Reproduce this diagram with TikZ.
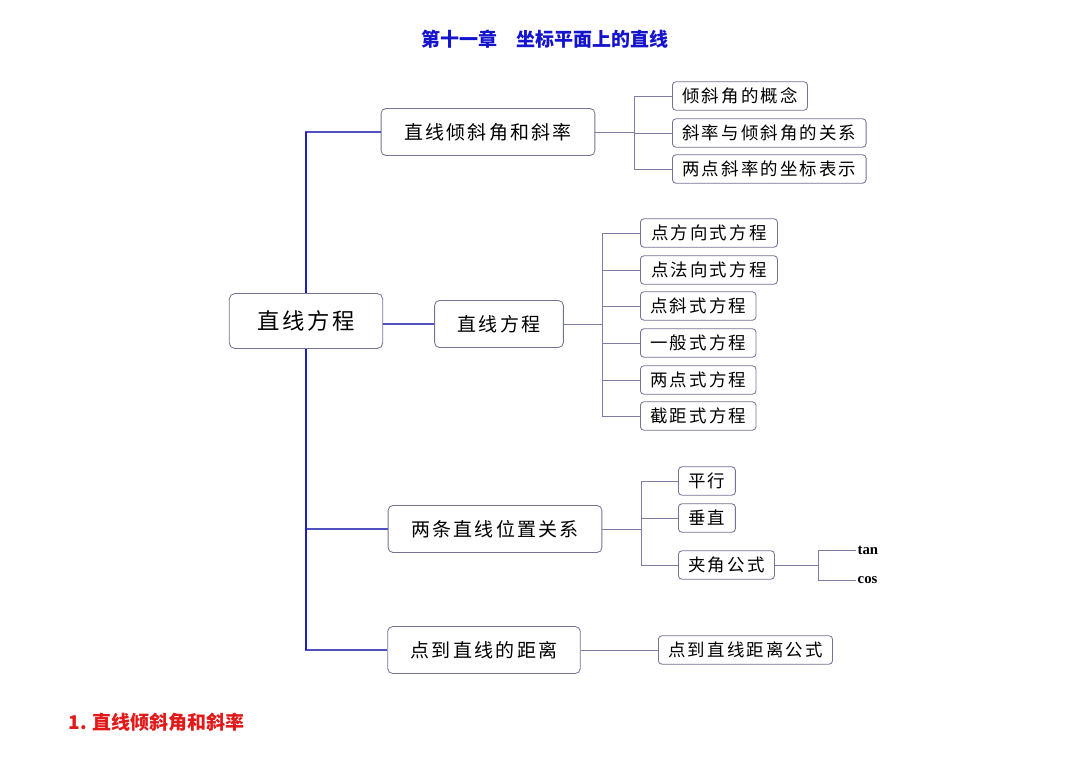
\documentclass[tikz,border=0pt]{standalone}
\usepackage{fontspec}
\usepackage{xcolor}
\usepackage{tikz}
\usetikzlibrary{positioning, calc}
\newfontfamily\cjk[LetterSpace=12]{Noto Sans CJK SC}
\newfontfamily\cjkhead{Noto Sans CJK SC}
\newfontfamily\latinb{Liberation Serif}
\definecolor{trunkblue}{RGB}{30,30,190}
\definecolor{branchblue}{RGB}{80,80,195}
\definecolor{twiggray}{RGB}{125,125,165}
\definecolor{boxgray}{RGB}{115,115,150}
\definecolor{titleblue}{RGB}{20,20,205}
\definecolor{headred}{RGB}{225,25,25}

\begin{document}
\begin{tikzpicture}[x=0.025cm, y=-0.025cm,
    rootbox/.style={draw=boxgray, fill=white, rounded corners=4pt, line width=0.6pt,
        font=\cjk\fontsize{15.9}{17}\selectfont, minimum height=1.375cm, inner xsep=0.7cm},
    midbox/.style={draw=boxgray, fill=white, rounded corners=3.5pt, line width=0.6pt,
        font=\cjk\fontsize{13.5}{15}\selectfont, minimum height=1.175cm, inner xsep=0.575cm},
    leafbox/.style={draw=boxgray, fill=white, rounded corners=2.5pt, line width=0.6pt,
        font=\cjk\fontsize{12.4}{14}\selectfont, minimum height=0.71cm, inner xsep=0.25cm, anchor=west},
    trunk/.style={draw=trunkblue, line width=1.3pt},
    branch/.style={draw=branchblue, line width=0.8pt},
    twig/.style={draw=twiggray, line width=0.6pt}]
    \useasboundingbox (0,0) rectangle (1080,762);

    % Headings
    \node[font=\cjkhead\bfseries\fontsize{13.5}{15}\selectfont, text=titleblue] (title) at (545,39) {第十一章　坐标平面上的直线};
    \node[font=\cjkhead\bfseries\fontsize{13.5}{15}\selectfont, text=headred, anchor=west] (head) at (64,722) {1. 直线倾斜角和斜率};

    % Root and main branches
    \node[rootbox] (root) at (306,321) {直线方程};
    \node[midbox] (incl) at (488,132) {直线倾斜角和斜率};
    \node[midbox] (eqn) at (499,324) {直线方程};
    \node[midbox] (pos) at (495,529) {两条直线位置关系};
    \node[midbox] (dist) at (484,650) {点到直线的距离};

    \draw[branch] (root.north) |- (incl.west);
    \draw[branch] (root.south) |- (pos.west);
    \draw[branch] (root.south) |- (dist.west);
    \draw[branch] (eqn.west -| root.east) -- (eqn.west);
    \draw[trunk] (root.north) -- (root.north |- incl.west);
    \draw[trunk] (root.south) -- (root.south |- dist.west);

    % Inclination and slope
    \coordinate (j1) at (634,132);
    \foreach \n/\y/\t in {i1/96/倾斜角的概念, i2/133/斜率与倾斜角的关系, i3/169/两点斜率的坐标表示} {
        \node[leafbox] (\n) at (672,\y) {\t};
        \draw[twig] (j1) |- (\n.west);
    }
    \draw[twig] (incl.east) -- (j1);

    % Forms of the equation
    \coordinate (j2) at (602,324);
    \foreach \n/\y/\t/\w in {e1/233/点方向式方程/3.425cm, e2/270/点法向式方程/3.425cm, e3/306/点斜式方程/1pt,
                             e4/343/一般式方程/1pt, e5/380/两点式方程/1pt, e6/416/截距式方程/1pt} {
        \node[leafbox, minimum width=\w] (\n) at (640,\y) {\t};
        \draw[twig] (j2) |- (\n.west);
    }
    \draw[twig] (eqn.east) -- (j2);

    % Relative position of two lines
    \coordinate (j3) at (641,529);
    \foreach \n/\y/\t in {p1/481/平行, p2/518/垂直, p3/565/夹角公式} {
        \node[leafbox] (\n) at (678,\y) {\t};
        \draw[twig] (j3) |- (\n.west);
    }
    \draw[twig] (pos.east) -- (j3);

    % tan and cos
    \coordinate (j4) at (818,565);
    \node[font=\latinb\bfseries\fontsize{10.5}{12}\selectfont, inner sep=1pt, anchor=west] (tan) at (856,550) {tan};
    \node[font=\latinb\bfseries\fontsize{10.5}{12}\selectfont, inner sep=1pt, anchor=west] (cos) at (856,580) {cos};
    \draw[twig] (p3.east) -- (j4);
    \draw[twig] (j4) |- (tan.west);
    \draw[twig] (j4) |- (cos.west);

    % Distance from point to line
    \node[leafbox] (d1) at (658,650) {点到直线距离公式};
    \draw[twig] (dist.east) -- (d1.west);
\end{tikzpicture}
\end{document}
